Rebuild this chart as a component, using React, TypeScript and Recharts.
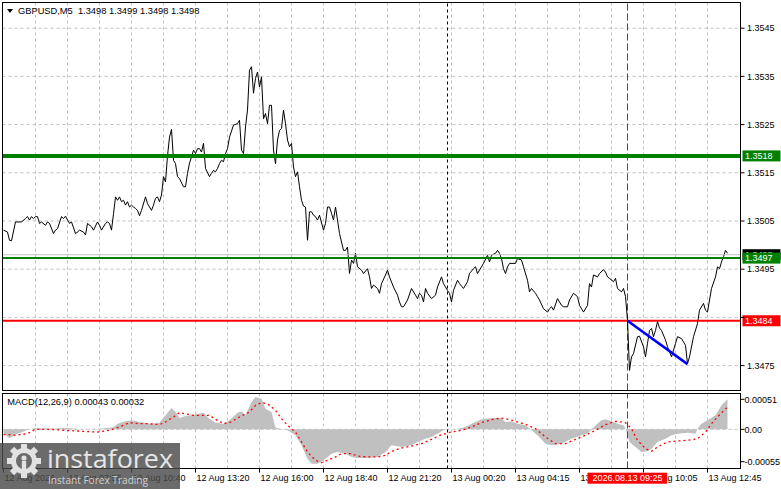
import React from 'react';
import { ComposedChart, Line, Area, XAxis, YAxis, CartesianGrid, ReferenceLine } from 'recharts';

const FONT = "'Liberation Sans', Arial, sans-serif";

// [bar index (5-minute bars), close]
const closesAug12: [number, number][] = [
  [0, 1.35031], [2, 1.35027], [3, 1.3501], [4, 1.35009], [6, 1.35048], [9, 1.35048], [11, 1.35055], [12, 1.35059],
  [13, 1.35052], [14, 1.35059], [15, 1.35055], [16, 1.35059], [17, 1.35059], [18, 1.35045], [19, 1.35048], [21, 1.35041],
  [22, 1.35048], [23, 1.35045], [25, 1.35024], [26, 1.35031], [27, 1.35034], [29, 1.35059], [30, 1.35055], [31, 1.3506],
  [32, 1.35052], [33, 1.35045], [34, 1.35048], [36, 1.35024], [37, 1.35027], [38, 1.35031], [40, 1.35027], [41, 1.35021],
  [42, 1.35045], [44, 1.35038], [45, 1.35031], [47, 1.35048], [48, 1.35041], [49, 1.35031], [51, 1.35045], [52, 1.35048],
  [53, 1.35045], [54, 1.35031], [55, 1.35065], [56, 1.351], [57, 1.35093], [58, 1.351], [59, 1.3509], [60, 1.35093],
  [61, 1.35083], [62, 1.3509], [63, 1.35079], [64, 1.35083], [65, 1.35079], [66, 1.35076], [67, 1.35072], [68, 1.35061],
  [69, 1.35072], [71, 1.351], [72, 1.35086], [74, 1.35072], [75, 1.35083], [76, 1.35097], [77, 1.351], [78, 1.3509],
  [79, 1.35104], [80, 1.35142], [81, 1.35131], [82, 1.35185], [83, 1.35224], [84, 1.3524], [85, 1.35176], [86, 1.35169],
  [87, 1.35142], [88, 1.35138], [90, 1.35121], [91, 1.35121], [92, 1.35149], [93, 1.3517], [94, 1.35183], [95, 1.35197],
  [96, 1.3519], [97, 1.352], [98, 1.352], [99, 1.35193], [100, 1.35211], [101, 1.35159], [103, 1.35142], [104, 1.35149],
  [105, 1.35155], [106, 1.35152], [107, 1.35159], [108, 1.35169], [109, 1.35176], [110, 1.35173], [111, 1.3519], [112, 1.352],
  [113, 1.35224], [115, 1.35249], [117, 1.35252], [118, 1.35259], [119, 1.35197], [120, 1.3519], [121, 1.35245], [122, 1.3528],
  [123, 1.35363], [124, 1.3537], [125, 1.35315], [126, 1.35346], [127, 1.35359], [128, 1.35328], [129, 1.35349], [130, 1.35262],
  [131, 1.35273], [132, 1.35252], [133, 1.3529], [134, 1.3529], [135, 1.35197], [136, 1.35169], [137, 1.35218], [138, 1.35238],
  [139, 1.35242], [140, 1.3528], [141, 1.35252], [142, 1.35218], [143, 1.35204], [144, 1.35211], [145, 1.35162], [146, 1.35142],
  [147, 1.35152], [148, 1.35121], [149, 1.35093], [150, 1.35081], [151, 1.35079], [152, 1.3501], [153, 1.35069], [154, 1.35069],
  [155, 1.35062], [156, 1.35059], [157, 1.35052], [158, 1.35062], [160, 1.35031], [161, 1.35045], [162, 1.35079], [163, 1.35079],
  [164, 1.35066], [165, 1.35052], [166, 1.35079], [167, 1.35052], [168, 1.35024], [170, 1.34989], [171, 1.34989], [172, 1.34996],
  [173, 1.34941], [174, 1.34969], [175, 1.34962], [176, 1.34983], [177, 1.34955], [179, 1.34948], [180, 1.34941], [182, 1.34951],
  [183, 1.34934], [184, 1.3491], [185, 1.34917], [187, 1.3491], [188, 1.349], [189, 1.3492], [191, 1.34938], [192, 1.34948],
  [193, 1.34934], [195, 1.34913], [197, 1.34896], [198, 1.34882], [199, 1.34872], [200, 1.34872], [202, 1.34886], [204, 1.3491],
  [206, 1.34896], [207, 1.34889], [208, 1.349], [209, 1.34896], [210, 1.34882], [211, 1.3491], [212, 1.349], [214, 1.34889],
  [216, 1.34896], [217, 1.34913], [219, 1.34934], [220, 1.3492],
];

const closesAug13: [number, number][] = [
  [222, 1.34906], [223, 1.349], [224, 1.34882], [225, 1.34906], [227, 1.34927], [228, 1.3492], [230, 1.3491], [232, 1.34924],
  [233, 1.34941], [235, 1.34951], [236, 1.34955], [237, 1.34941], [240, 1.34962], [242, 1.34979], [243, 1.34965], [244, 1.34979],
  [246, 1.34983], [247, 1.34989], [248, 1.34983], [249, 1.34972], [250, 1.34951], [251, 1.34941], [252, 1.34955], [253, 1.34962],
  [256, 1.34962], [257, 1.34972], [259, 1.34969], [260, 1.34955], [262, 1.34927], [263, 1.34903], [264, 1.3491], [266, 1.349],
  [267, 1.34893], [268, 1.34886], [270, 1.34868], [272, 1.34861], [273, 1.34868], [274, 1.34872], [275, 1.34865], [277, 1.34889],
  [278, 1.34882], [279, 1.34875], [280, 1.34872], [282, 1.34872], [283, 1.34886], [285, 1.349], [287, 1.34893], [288, 1.34875],
  [290, 1.34861], [292, 1.34875], [293, 1.3492], [294, 1.34913], [295, 1.34938], [297, 1.34934], [298, 1.34941], [300, 1.34949],
  [301, 1.34944], [302, 1.34934], [303, 1.34931], [305, 1.34924], [306, 1.34931], [307, 1.3491], [309, 1.34903], [310, 1.3491],
  [311, 1.34893], [312, 1.34844], [313, 1.3474], [314, 1.34768], [315, 1.34775], [317, 1.3481], [318, 1.34811], [320, 1.34789],
  [321, 1.34768], [322, 1.34796], [323, 1.34823], [324, 1.34827], [325, 1.3481], [326, 1.34823], [327, 1.34841], [328, 1.34828],
  [329, 1.34823], [331, 1.34803], [332, 1.34789], [334, 1.34768], [336, 1.34796], [337, 1.3481], [339, 1.34806], [341, 1.34792],
  [342, 1.34754], [343, 1.34768], [345, 1.3481], [347, 1.34837], [348, 1.34865], [350, 1.34879], [351, 1.34865], [352, 1.34861],
  [354, 1.3491], [356, 1.34934], [357, 1.34955], [358, 1.34951], [359, 1.34965], [360, 1.34976], [361, 1.34989], [362, 1.34983],
];

// MACD(12,26,9) main line (histogram) and signal line: [bar, value]
const macdMain: [number, number][] = [
  [0, -0.00007], [3, -0.00015], [6, -0.00009], [10, -0.000035], [13, 0], [16, 0.000022], [23, 0.000011], [31, 0.000022],
  [40, 0], [48, 0.000011], [55, 0.000034], [57, 0.000096], [61, 0.000136], [64, 0.000153], [68, 0.000125], [73, 0.000096],
  [78, 0.000113], [81, 0.000238], [84, 0.000363], [86, 0.000295], [88, 0.000193], [91, 0.000227], [95, 0.000249], [100, 0.000283],
  [103, 0.000181], [106, 0.000113], [110, 0.000096], [113, 0.000153], [117, 0.000283], [119, 0.000306], [121, 0.000238], [124, 0.000465],
  [126, 0.00055], [129, 0.000521], [131, 0.000351], [134, 0.000295], [135, 0.000153], [136, 0.00003], [139, 0], [142, -0.000017],
  [146, -0.000102], [149, -0.000272], [152, -0.000499], [154, -0.000584], [157, -0.000584], [161, -0.000499], [164, -0.000414], [167, -0.000385],
  [171, -0.000414], [174, -0.00047], [177, -0.000487], [182, -0.000487], [187, -0.00047], [191, -0.000385], [194, -0.000272], [199, -0.0003],
  [204, -0.000272], [207, -0.000215], [211, -0.000159], [214, -0.00013], [217, -0.000074], [220, -0.000017], [222, 0], [226, 0],
  [231, 0.000039], [234, 0.000096], [239, 0.00017], [244, 0.000192], [249, 0.000192], [251, 0.00012], [254, 0.000136], [257, 0.000096],
  [261, 0.000068], [264, -0.000017], [267, -0.000102], [271, -0.000244], [274, -0.000272], [279, -0.000244], [284, -0.000159], [289, -0.000102],
  [292, -0.000074], [296, 0.000068], [299, 0.000153], [301, 0.00017], [304, 0.000136], [307, 0.000096], [310, 0.000068], [311, 0.000011],
  [313, -0.000215], [316, -0.0003], [319, -0.000385], [322, -0.000374], [324, -0.000329], [327, -0.000215], [331, -0.000159], [334, -0.000102],
  [337, -0.000074], [342, -0.000057], [346, -0.000074], [347, 0.000011], [349, 0.000096], [352, 0.000153], [356, 0.000238], [359, 0.000408],
  [362, 0.00051],
];

const macdSignal: [number, number][] = [
  [0, -0.00009], [3, -0.00009], [6, -0.000102], [12, -0.000074], [16, 0], [23, 0], [31, -0.000017], [40, -0.000035],
  [47, -0.000046], [53, -0.000017], [58, 0.00004], [63, 0.000113], [68, 0.000096], [73, 0.000096], [78, 0.000079], [81, 0.000125],
  [85, 0.00021], [88, 0.000283], [95, 0.000238], [100, 0.000238], [103, 0.000238], [106, 0.00017], [110, 0.000096], [113, 0.000113],
  [118, 0.00021], [123, 0.000295], [126, 0.000408], [129, 0.000453], [132, 0.000436], [136, 0.000323], [139, 0.000181], [142, 0.000068],
  [146, -0.000046], [149, -0.000215], [152, -0.000385], [156, -0.000527], [159, -0.000567], [162, -0.000527], [166, -0.00047], [169, -0.000414],
  [174, -0.000414], [177, -0.000454], [182, -0.00047], [187, -0.00047], [191, -0.000442], [194, -0.000374], [199, -0.000318], [204, -0.000284],
  [209, -0.000244], [214, -0.00017], [219, -0.000091], [224, -0.000046], [229, -0.000017], [234, 0.000039], [239, 0.000113], [244, 0.000164],
  [249, 0.000192], [251, 0.000181], [256, 0.000136], [261, 0.000085], [266, 0.000011], [271, -0.00013], [276, -0.000244], [281, -0.000244],
  [286, -0.00017], [291, -0.000102], [296, -0.000017], [301, 0.000079], [306, 0.000136], [311, 0.000113], [314, 0.000011], [317, -0.000187],
  [321, -0.000329], [324, -0.000374], [327, -0.0003], [332, -0.000215], [337, -0.000198], [342, -0.000187], [347, -0.000159], [351, -0.000046],
  [354, 0.000096], [357, 0.00021], [362, 0.00038],
];

const priceTicks = [1.3475, 1.3485, 1.3495, 1.3505, 1.3515, 1.3525, 1.3535, 1.3545];
const priceTickLabelled = [1.3475, 1.3495, 1.3505, 1.3515, 1.3525, 1.3535, 1.3545];
const macdTicks = [-0.00055, 0, 0.00051];
const macdTickLabels = ['-0.00055', '0.00', '0.00051'];
const gridBars = [16, 32, 48, 64, 80, 96, 112, 128, 144, 160, 176, 192, 208, 224, 240, 256, 272, 288, 304, 320, 336, 352];
const timeTickBars = [0, 32, 64, 96, 128, 160, 192, 224, 256, 288, 320, 352];
const timeTickLabels = [
  '12 Aug 2026', '12 Aug 07:55', '12 Aug 10:40', '12 Aug 13:20', '12 Aug 16:00', '12 Aug 18:40',
  '12 Aug 21:20', '13 Aug 00:20', '13 Aug 04:15', '13 Aug 07:25', '13 Aug 10:05', '13 Aug 12:45',
];

const levelValues = [1.35185, 1.34973, 1.34843];
const levelLabels = ['1.3518', '1.3497', '1.3484'];
const levelColors = ['#008000', '#008000', '#FF0000'];
const levelWidths = [4, 2, 2];
const bidPrice = 1.3498;
const bidLabel = '1.3498';
const daySeparatorBar = 222;
const cursorBar = 312;
const cursorLabel = '2026.08.13 09:25';
const trendFrom = { x: 312, y: 1.34843 };
const trendTo = { x: 342, y: 1.34753 };
const headerText = 'GBPUSD,M5  1.3498 1.3499 1.3498 1.3498';
const macdHeaderText = 'MACD(12,26,9) 0.00043 0.00032';

const BAR_DOMAIN: [number, number] = [-0.5, 368.5];
const PRICE_DOMAIN: [number, number] = [1.346983, 1.355033];
const MACD_DOMAIN: [number, number] = [-0.000666, 0.000609];

const priceRows = [...closesAug12, ...closesAug13].map(([bar, close]) => ({ bar, close }));

const macdRows = (() => {
  const m = new Map<number, any>();
  macdMain.forEach(([bar, v]) => m.set(bar, { ...(m.get(bar) || { bar }), macd: v }));
  macdSignal.forEach(([bar, v]) => m.set(bar, { ...(m.get(bar) || { bar }), signal: v }));
  return Array.from(m.values()).sort((a, b) => a.bar - b.bar);
})();

const priceTag = (text: string, bg: string) => (props: any) => {
  const vb = props && props.viewBox;
  if (!vb) return null;
  const x = vb.x + vb.width + 2;
  const y = vb.y + (vb.height || 0) / 2;
  return (
    <g>
      <rect x={x} y={y - 5.5} width={38} height={11} fill={bg} />
      <text x={x + 2.5} y={y + 3.3} fontSize={9} fontFamily={FONT} fill="#FFFFFF">{text}</text>
    </g>
  );
};

const cursorTag = (props: any) => {
  const vb = props && props.viewBox;
  if (!vb) return null;
  const x = vb.x;
  const y = vb.y + vb.height;
  return (
    <g>
      <rect x={x - 40} y={y + 4.2} width={79.5} height={11} fill="#FF0000" />
      <text x={x} y={y + 12.8} textAnchor="middle" fontSize={9} fontFamily={FONT} fill="#FFFFFF">{cursorLabel}</text>
    </g>
  );
};

const TimeTick = (props: any) => {
  const { x, y, payload } = props;
  const i = timeTickBars.indexOf(payload.value);
  return (
    <text x={x + 1} y={y} dy={6.5} fontSize={9} fontFamily={FONT} fill="#000" textAnchor="start">
      {timeTickLabels[i]}
    </text>
  );
};

const PriceTick = (props: any) => {
  const { x, y, payload } = props;
  if (!priceTickLabelled.includes(payload.value)) return null;
  return (
    <text x={x} y={y} dy={3.3} fontSize={9} fontFamily={FONT} fill="#000" textAnchor="start">
      {payload.value.toFixed(4)}
    </text>
  );
};

const MacdTick = (props: any) => {
  const { x, y, payload } = props;
  const i = macdTicks.indexOf(payload.value);
  return (
    <text x={x - 2.5} y={y} dy={3.3} fontSize={9} fontFamily={FONT} fill="#000" textAnchor="start">
      {macdTickLabels[i]}
    </text>
  );
};

const gearTeeth = [0, 45, 90, 135, 180, 225, 270, 315];

export default function App() {
  return (
    <div style={{ position: 'absolute', left: 0, top: 0, width: 781, height: 489, background: '#FFFFFF', overflow: 'hidden', fontFamily: FONT }}>
      <div style={{ position: 'absolute', left: 0, top: 0 }}>
        <ComposedChart width={781} height={392} data={priceRows} margin={{ top: 2.5, right: 0, bottom: 1.5, left: 2.5 }}>
          <CartesianGrid stroke="#C0C0C0" strokeDasharray="3 3" horizontalValues={priceTicks} verticalValues={gridBars} />
          <XAxis dataKey="bar" type="number" domain={BAR_DOMAIN} allowDataOverflow hide ticks={gridBars} />
          <YAxis
            orientation="right"
            type="number"
            domain={PRICE_DOMAIN}
            allowDataOverflow
            ticks={priceTicks}
            interval={0}
            width={40.5}
            tickSize={4}
            tickMargin={2.5}
            axisLine={{ stroke: '#000' }}
            tickLine={{ stroke: '#000' }}
            tick={<PriceTick />}
          />
          <ReferenceLine x={daySeparatorBar} stroke="#000" strokeDasharray="3 3" />
          <ReferenceLine x={cursorBar} stroke="#FF0000" strokeDasharray="7 3" />
          <Line dataKey="close" type="linear" stroke="#000" strokeWidth={1} dot={false} isAnimationActive={false} />
          <ReferenceLine y={bidPrice} stroke="#C0C0C0" strokeWidth={1} label={priceTag(bidLabel, '#000000')} />
          {levelValues.map((v, i) => (
            <ReferenceLine key={i} y={v} stroke={levelColors[i]} strokeWidth={levelWidths[i]} label={priceTag(levelLabels[i], levelColors[i])} />
          ))}
          <ReferenceLine segment={[trendFrom, trendTo]} stroke="#0000FF" strokeWidth={2.5} />
        </ComposedChart>
      </div>
      <div style={{ position: 'absolute', left: 0, top: 393 }}>
        <ComposedChart width={781} height={96} data={macdRows} margin={{ top: 0.5, right: 0, bottom: 0, left: 2.5 }}>
          <CartesianGrid stroke="#C0C0C0" strokeDasharray="3 3" horizontalValues={[0]} verticalValues={gridBars} />
          <XAxis
            dataKey="bar"
            type="number"
            domain={BAR_DOMAIN}
            allowDataOverflow
            ticks={timeTickBars}
            interval={0}
            height={20.5}
            tickSize={4}
            axisLine={{ stroke: '#000' }}
            tickLine={{ stroke: '#000' }}
            tick={<TimeTick />}
          />
          <YAxis
            orientation="right"
            type="number"
            domain={MACD_DOMAIN}
            allowDataOverflow
            ticks={macdTicks}
            interval={0}
            width={40.5}
            tickSize={4}
            tickMargin={2.5}
            axisLine={{ stroke: '#000' }}
            tickLine={{ stroke: '#000' }}
            tick={<MacdTick />}
          />
          <Area dataKey="macd" type="linear" baseValue={0} fill="#C0C0C0" fillOpacity={1} stroke="none" connectNulls isAnimationActive={false} />
          <Line dataKey="signal" type="linear" stroke="#FF0000" strokeWidth={1.3} strokeDasharray="2 3" dot={false} connectNulls isAnimationActive={false} />
          <ReferenceLine x={daySeparatorBar} stroke="#000" strokeDasharray="3 3" />
          <ReferenceLine x={cursorBar} stroke="#FF0000" strokeDasharray="7 3" />
        </ComposedChart>
      </div>
      <div style={{ position: 'absolute', left: 0, top: 393 }}>
        <ComposedChart width={781} height={96} data={macdRows} margin={{ top: 0.5, right: 40.5, bottom: 20.5, left: 2.5 }}>
          <XAxis dataKey="bar" type="number" domain={BAR_DOMAIN} allowDataOverflow hide />
          <YAxis type="number" domain={MACD_DOMAIN} allowDataOverflow hide />
          <ReferenceLine x={cursorBar} stroke="none" label={cursorTag} />
        </ComposedChart>
      </div>
      <svg width={781} height={489} style={{ position: 'absolute', left: 0, top: 0, pointerEvents: 'none' }}>
        <rect x={2.5} y={2.5} width={738} height={388} fill="none" stroke="#000" />
        <rect x={2.5} y={393.5} width={738} height={75} fill="none" stroke="#000" />
        <polygon points="7,9 13,9 10,13" fill="#000" />
        <text x={18} y={14} fontSize={9.3} fontFamily={FONT} fill="#000" xmlSpace="preserve">{headerText}</text>
        <text x={7.3} y={405} fontSize={9.3} fontFamily={FONT} fill="#000">{macdHeaderText}</text>
        <g>
          <rect x={0} y={443} width={180} height={46} fill="#4a4a4a" fillOpacity={0.82} />
          <g transform="translate(24,461)">
            <circle r={10.5} fill="none" stroke="#E2E2E2" strokeWidth={5} />
            {gearTeeth.map((a) => (
              <rect key={a} x={-3} y={-17} width={6} height={6} fill="#E2E2E2" transform={`rotate(${a})`} />
            ))}
            <circle cx={0} cy={-3} r={2.6} fill="#E2E2E2" />
            <rect x={-2.2} y={0} width={4.4} height={8} fill="#E2E2E2" />
          </g>
          <text x={47} y={468} fontSize={26} fontFamily="'Open Sans', 'DejaVu Sans', sans-serif" fill="#E6E6E6" textLength={126} lengthAdjust="spacingAndGlyphs">instaforex</text>
          <text x={48} y={484} fontSize={11} fontFamily="'Open Sans', 'DejaVu Sans', sans-serif" fill="#D0D0D0" textLength={100} lengthAdjust="spacingAndGlyphs">Instant Forex Trading</text>
        </g>
      </svg>
    </div>
  );
}
